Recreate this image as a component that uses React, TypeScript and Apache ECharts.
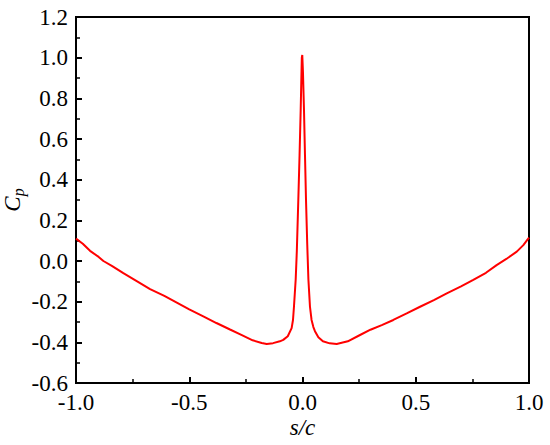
import React, { useEffect, useRef } from "react";
import * as echarts from "echarts";

const sValues: number[] = [
  -1.0, -0.97, -0.938, -0.9, -0.879, -0.84, -0.791, -0.73, -0.673, -0.61, -0.555, -0.5,
  -0.438, -0.38, -0.32, -0.27, -0.22, -0.18, -0.158, -0.13, -0.1, -0.085, -0.065, -0.048,
  -0.042, -0.038, -0.034, -0.03, -0.025, -0.0185, -0.013, -0.008, -0.005, -0.003, -0.001,
  0.002, 0.0066, 0.011, 0.0155, 0.021, 0.026, 0.033, 0.04, 0.048, 0.055, 0.07, 0.09, 0.12,
  0.151, 0.2, 0.254, 0.3, 0.35, 0.401, 0.46, 0.519, 0.58, 0.637, 0.7, 0.754, 0.81, 0.857,
  0.9, 0.946, 0.975, 1.0,
];

const cpValues: number[] = [
  0.11, 0.085, 0.05, 0.02, 0.0, -0.025, -0.06, -0.1, -0.138, -0.172, -0.205, -0.238,
  -0.272, -0.305, -0.337, -0.363, -0.39, -0.403, -0.408, -0.404, -0.395, -0.388, -0.37, -0.33,
  -0.29, -0.23, -0.16, -0.09, 0.05, 0.3, 0.52, 0.743, 0.9, 1.0, 1.013,
  0.93, 0.743, 0.52, 0.3, 0.08, -0.09, -0.225, -0.29, -0.325, -0.345, -0.375, -0.395, -0.405,
  -0.408, -0.395, -0.364, -0.338, -0.315, -0.29, -0.258, -0.225, -0.192, -0.159, -0.125, -0.093, -0.058, -0.02,
  0.01, 0.046, 0.078, 0.115,
];

const xAxisTitle = "s/c";
const yAxisTitleMain = "C";
const yAxisTitleSub = "p";

const FONT = "'Liberation Serif', 'Times New Roman', serif";

export default function App() {
  const ref = useRef<HTMLDivElement>(null);
  useEffect(() => {
    if (!ref.current) return;
    const chart = echarts.init(ref.current, undefined, { renderer: "svg" });
    const data = sValues.map((s, i) => [s, cpValues[i]]);
    chart.setOption({
      animation: false,
      backgroundColor: "#ffffff",
      grid: {
        left: 76,
        right: 21,
        top: 17,
        bottom: 62,
        containLabel: false,
        outerBoundsMode: "none",
        show: true,
        borderColor: "#000",
        borderWidth: 2,
        backgroundColor: "transparent",
      },
      xAxis: {
        type: "value",
        min: -1,
        max: 1,
        interval: 0.5,
        name: xAxisTitle,
        nameLocation: "middle",
        nameGap: 33,
        nameMoveOverlap: false,
        nameTextStyle: { fontFamily: FONT, fontSize: 23, fontStyle: "italic", color: "#000" },
        axisLine: { show: true, onZero: false, lineStyle: { color: "#000", width: 2 } },
        axisTick: { show: true, inside: true, length: 6, lineStyle: { color: "#000", width: 2 } },
        minorTick: { show: true, splitNumber: 2, length: 4, lineStyle: { color: "#000", width: 1.5 } },
        splitLine: { show: false },
        axisLabel: {
          fontFamily: FONT,
          fontSize: 23,
          color: "#000",
          margin: 8,
          formatter: (v: number) => v.toFixed(1),
        },
      },
      yAxis: {
        type: "value",
        min: -0.6,
        max: 1.2,
        interval: 0.2,
        name: `{c|${yAxisTitleMain}}{p|${yAxisTitleSub}}`,
        nameLocation: "middle",
        nameGap: 50,
        nameMoveOverlap: false,
        nameRotate: 90,
        nameTextStyle: {
          color: "#000",
          rich: {
            c: { fontFamily: FONT, fontSize: 23, fontStyle: "italic", color: "#000" },
            p: {
              fontFamily: FONT,
              fontSize: 16,
              fontStyle: "italic",
              color: "#000",
              padding: [12, 0, 0, 0],
            },
          },
        },
        axisLine: { show: true, onZero: false, lineStyle: { color: "#000", width: 2 } },
        axisTick: { show: true, inside: true, length: 6, lineStyle: { color: "#000", width: 2 } },
        minorTick: { show: true, splitNumber: 2, length: 4, lineStyle: { color: "#000", width: 1.5 } },
        splitLine: { show: false },
        axisLabel: {
          fontFamily: FONT,
          fontSize: 23,
          color: "#000",
          margin: 8,
          formatter: (v: number) => v.toFixed(1),
        },
      },
      series: [
        {
          type: "line",
          data,
          showSymbol: false,
          symbol: "none",
          lineStyle: { color: "#ff0000", width: 2 },
          smooth: false,
        },
      ],
    });
    return () => chart.dispose();
  }, []);
  return (
    <div
      ref={ref}
      style={{ position: "fixed", left: 0, top: 0, width: 550, height: 445, background: "#fff" }}
    />
  );
}
